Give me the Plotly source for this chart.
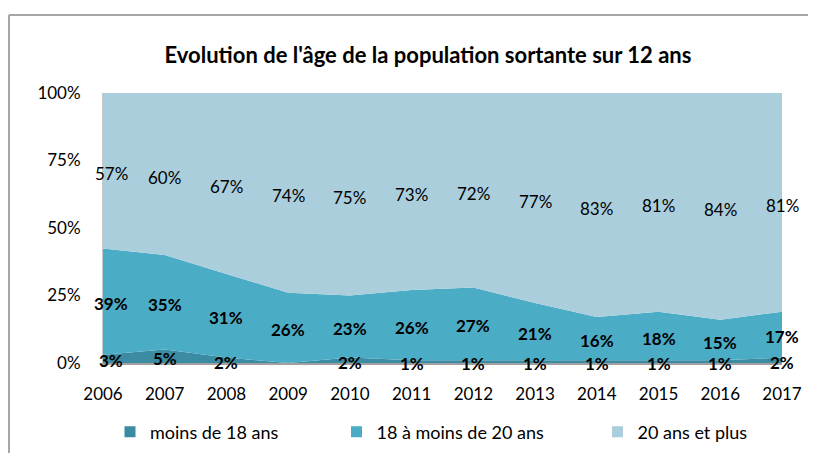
import numpy as np
import plotly.graph_objects as go

years = [2006, 2007, 2008, 2009, 2010, 2011, 2012, 2013, 2014, 2015, 2016, 2017]
moins_18 = [3, 5, 2, 0, 2, 1, 1, 1, 1, 1, 1, 2]
de_18_a_20 = [39, 35, 31, 26, 23, 26, 27, 21, 16, 18, 15, 17]
plus_20 = [57, 60, 67, 74, 75, 73, 72, 77, 83, 81, 84, 81]
series_names = ["moins de 18 ans", "18 à moins de 20 ans", "20 ans et plus"]
y_ticks = [0, 25, 50, 75, 100]
title = "Evolution de l'âge de la population sortante sur 12 ans"

colors = ["#3B8BA3", "#4BACC6", "#AACEDC"]
FONT = "Lato, 'Open Sans', sans-serif"

series = [moins_18, de_18_a_20, plus_20]
arr = np.array(series, dtype=float)
norm = arr / arr.sum(axis=0) * 100
cum = np.cumsum(norm, axis=0)
mid = cum - norm / 2

# page body has an 8px margin: figure is laid out in page coords minus 8
OFF = 8
W, H = 816 - OFF, 453 - OFF
PL, PR, PT, PB = 103, 782, 93, 363  # plot area in page pixels
PW, PH = PR - PL, PB - PT


def px_x(x):
    return (x - PL) / PW


def px_y(y):
    return (PB - y) / PH


def cx(x):
    return (x - OFF) / W


def cy(y):
    return 1 - (y - OFF) / H


fig = go.Figure()
for i, (name, vals) in enumerate(zip(series_names, series)):
    fig.add_trace(go.Scatter(
        x=years, y=vals, name=name, stackgroup="one", groupnorm="percent",
        mode="lines", line=dict(width=0, color=colors[i]), fillcolor=colors[i],
        showlegend=False, hoverinfo="skip"))

label_yshift = [-2, -2, -3]
annotations = []
for i, vals in enumerate(series):
    for j, (yr, v) in enumerate(zip(years, vals)):
        if v <= 0:
            continue
        txt = f"<b>{v}%</b>" if i < 2 else f"{v}%"
        annotations.append(dict(
            x=yr, y=mid[i][j], xref="x", yref="y", text=txt, showarrow=False,
            xanchor="center", yanchor="middle", yshift=label_yshift[i],
            xshift=8 if j == 0 else 0,
            font=dict(family=FONT, size=17, color="#000000")))

legend_ids = ["legend", "legend2", "legend3"]
marker_centers = [132, 358.5, 619.5]
for i, name in enumerate(series_names):
    fig.add_trace(go.Scatter(
        x=[None], y=[None], mode="markers", name=name,
        marker=dict(symbol="square", size=11, color=colors[i]),
        showlegend=True, legend=legend_ids[i], hoverinfo="skip"))

legend_common = dict(orientation="h", xanchor="left", yanchor="middle",
                     xref="container", yref="container",
                     font=dict(family=FONT, size=18), bgcolor="rgba(0,0,0,0)")
legends = {}
for lid, mc in zip(legend_ids, marker_centers):
    legends[lid] = dict(x=cx(mc - 22), y=cy(432), **legend_common)

fig.update_layout(
    width=W, height=H,
    margin=dict(l=PL - OFF, r=W - (PR - OFF), t=PT - OFF, b=H - (PB - OFF),
                autoexpand=False),
    paper_bgcolor="white", plot_bgcolor="white",
    font=dict(family=FONT, size=17, color="#000000"),
    title=dict(text=f"<b>{title}</b>", x=cx(428), xref="container", xanchor="center",
               y=cy(55), yref="container", yanchor="middle",
               font=dict(family=FONT, size=22, color="#000000")),
    showlegend=True,
    hovermode=False,
    annotations=annotations,
    shapes=[
        dict(type="line", xref="paper", yref="paper",
             x0=px_x(9), x1=px_x(816), y0=px_y(15), y1=px_y(15),
             line=dict(color="#A6A6A6", width=2)),
        dict(type="line", xref="paper", yref="paper",
             x0=px_x(9), x1=px_x(9), y0=px_y(15), y1=px_y(453),
             line=dict(color="#A6A6A6", width=2)),
    ],
    **legends,
)
fig.update_xaxes(range=[2006, 2017], tickvals=years, ticktext=[str(y) for y in years],
                 showgrid=False, zeroline=False, showline=True, linecolor="#A0A0A0",
                 linewidth=2, ticks="", ticklabelstandoff=15,
                 tickfont=dict(family=FONT, size=17))
fig.update_yaxes(range=[0, 100], tickvals=y_ticks, ticktext=[f"{t}%" for t in y_ticks],
                 showgrid=False, zeroline=False, showline=True, linecolor="#C8C8C8",
                 linewidth=1, ticks="", ticklabelstandoff=18,
                 tickfont=dict(family=FONT, size=17))

fig.write_html("out.html", config={"displayModeBar": False})
